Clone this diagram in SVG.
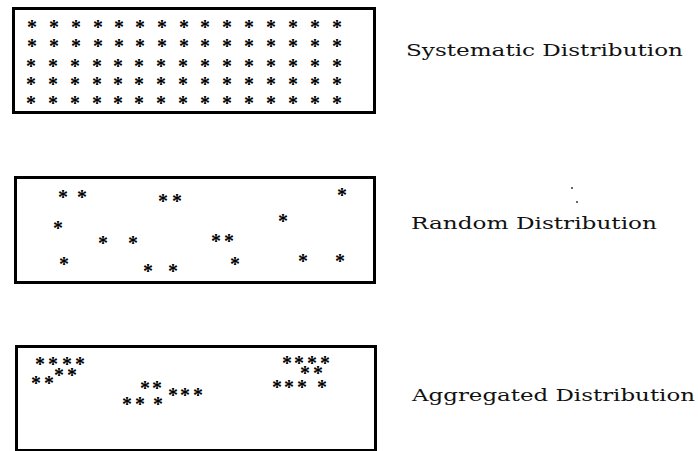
<svg xmlns="http://www.w3.org/2000/svg" width="698" height="451" viewBox="0 0 698 451">
<style>
.box{fill:#fff;stroke:#000;stroke-width:3}
.st{font-family:"Liberation Serif",serif;font-size:20px;font-weight:bold;fill:#000;text-anchor:middle}
.lbl{font-family:"DejaVu Serif","Liberation Serif",serif;font-size:17px;fill:#111}
</style>
<rect width="698" height="451" fill="#fff"/>
<g id="systematic">
<rect class="box" x="13.5" y="8.5" width="361" height="104"/>
<text class="st" x="32 54 76 98 119 140 162 184 205 227 249 271 293 315 337" y="34">***************</text>
<text class="st" x="32 54 76 98 119 140 162 184 205 227 249 271 293 315 337" y="52.5">***************</text>
<text class="st" x="31 53 75 97 118 139 161 183 205 227 249 271 293 315 337" y="72.5">***************</text>
<text class="st" x="31 53 75 97 118 139 161 183 205 227 249 271 293 315 337" y="91">***************</text>
<text class="st" x="31 53 75 97 118 139 161 183 205 227 249 271 293 315 337" y="109.5">***************</text>
<text class="lbl" x="406" y="56" textLength="277" lengthAdjust="spacingAndGlyphs">Systematic Distribution</text>
</g>
<g id="random">
<rect class="box" x="15.5" y="177.5" width="359" height="105"/>
<text class="st" x="63" y="203.5">*</text>
<text class="st" x="82" y="203.5">*</text>
<text class="st" x="163" y="207.5">*</text>
<text class="st" x="177" y="207.5">*</text>
<text class="st" x="342" y="201.5">*</text>
<text class="st" x="58" y="234.5">*</text>
<text class="st" x="283" y="227.5">*</text>
<text class="st" x="103" y="249.5">*</text>
<text class="st" x="133" y="249.5">*</text>
<text class="st" x="216" y="247.5">*</text>
<text class="st" x="229" y="247.5">*</text>
<text class="st" x="64" y="270.5">*</text>
<text class="st" x="148" y="277.5">*</text>
<text class="st" x="173" y="277.5">*</text>
<text class="st" x="235" y="270.5">*</text>
<text class="st" x="303" y="267.5">*</text>
<text class="st" x="340" y="267.5">*</text>
<text class="lbl" x="411" y="229" textLength="246" lengthAdjust="spacingAndGlyphs">Random Distribution</text>
<circle cx="572" cy="188" r="1" fill="#333"/>
<circle cx="577" cy="202" r="1" fill="#333"/>
</g>
<g id="aggregated">
<rect class="box" x="16.5" y="346.5" width="359" height="104"/>
<text class="st" x="40 53 67 80" y="370.5">****</text>
<text class="st" x="59 72" y="381.5">**</text>
<text class="st" x="36 49" y="389.5">**</text>
<text class="st" x="145 157" y="394.5">**</text>
<text class="st" x="173 185 198" y="401.5">***</text>
<text class="st" x="127 140 158" y="410.5">***</text>
<text class="st" x="287 299 312 325" y="369.5">****</text>
<text class="st" x="305 318" y="379.5">**</text>
<text class="st" x="277 289 302 322" y="393.5">****</text>
<text class="lbl" x="412" y="401" textLength="283" lengthAdjust="spacingAndGlyphs">Aggregated Distribution</text>
</g>
</svg>
